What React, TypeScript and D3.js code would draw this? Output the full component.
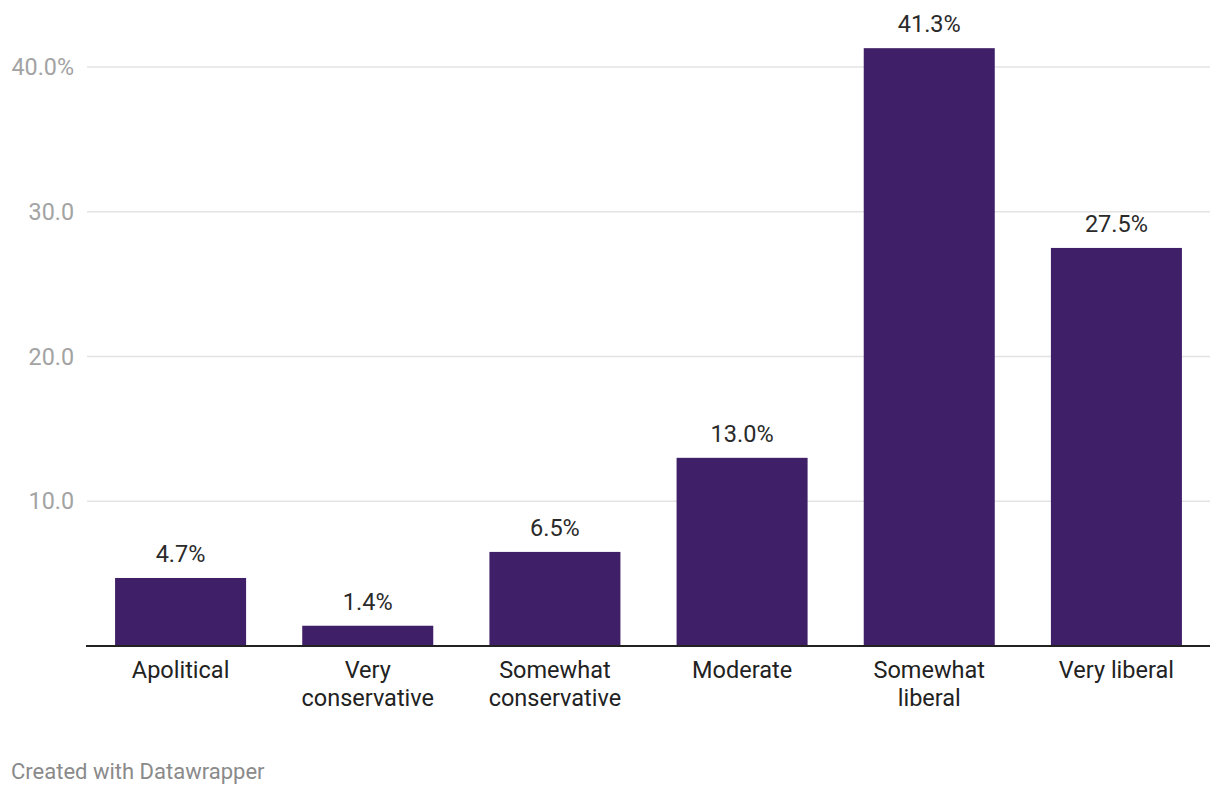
import React from "react";
import * as d3 from "d3";

const categories = ["Apolitical", "Very conservative", "Somewhat conservative", "Moderate", "Somewhat liberal", "Very liberal"];
const categoryLines = [["Apolitical"], ["Very", "conservative"], ["Somewhat", "conservative"], ["Moderate"], ["Somewhat", "liberal"], ["Very liberal"]];
const values = [4.7, 1.4, 6.5, 13.0, 41.3, 27.5];
const yTicks = [10, 20, 30, 40];
const yTickLabels = ["10.0", "20.0", "30.0", "40.0%"];

const W = 1220;
const H = 794;

export default function App() {
  const x = d3.scaleBand<string>().domain(categories).range([87, 1210]).paddingInner(0.3).paddingOuter(0.15);
  const y = d3.scaleLinear().domain([0, 40]).range([646, 67]);
  const font = "Roboto, 'Noto Sans', sans-serif";
  return (
    <svg width={W} height={H} style={{ position: "absolute", left: 0, top: 0, background: "#fff" }} fontFamily={font}>
      {yTicks.map((t, i) => (
        <g key={t}>
          <line x1={87} x2={1210} y1={y(t)} y2={y(t)} stroke="#e3e3e3" strokeWidth={1.5} />
          <text x={74} y={y(t) + 8} textAnchor="end" fontSize={23.3} fill="#a3a3a3">{yTickLabels[i]}</text>
        </g>
      ))}
      {categories.map((c, i) => (
        <g key={c}>
          <rect x={x(c)} y={y(values[i])} width={x.bandwidth()} height={y(0) - y(values[i])} fill="#3f1f67" />
          <text x={(x(c) as number) + x.bandwidth() / 2} y={y(values[i]) - 16} textAnchor="middle" fontSize={23.5} fill="#2a2a2a">
            {values[i].toFixed(1) + "%"}
          </text>
          {categoryLines[i].map((ln, j) => (
            <text key={j} x={(x(c) as number) + x.bandwidth() / 2} y={678 + j * 28} textAnchor="middle" fontSize={23.5} fill="#222">
              {ln}
            </text>
          ))}
        </g>
      ))}
      <line x1={86} x2={1210} y1={y(0)} y2={y(0)} stroke="#222" strokeWidth={2} />
      <text x={11} y={779} fontSize={22} fill="#8a8a8a">Created with Datawrapper</text>
    </svg>
  );
}
